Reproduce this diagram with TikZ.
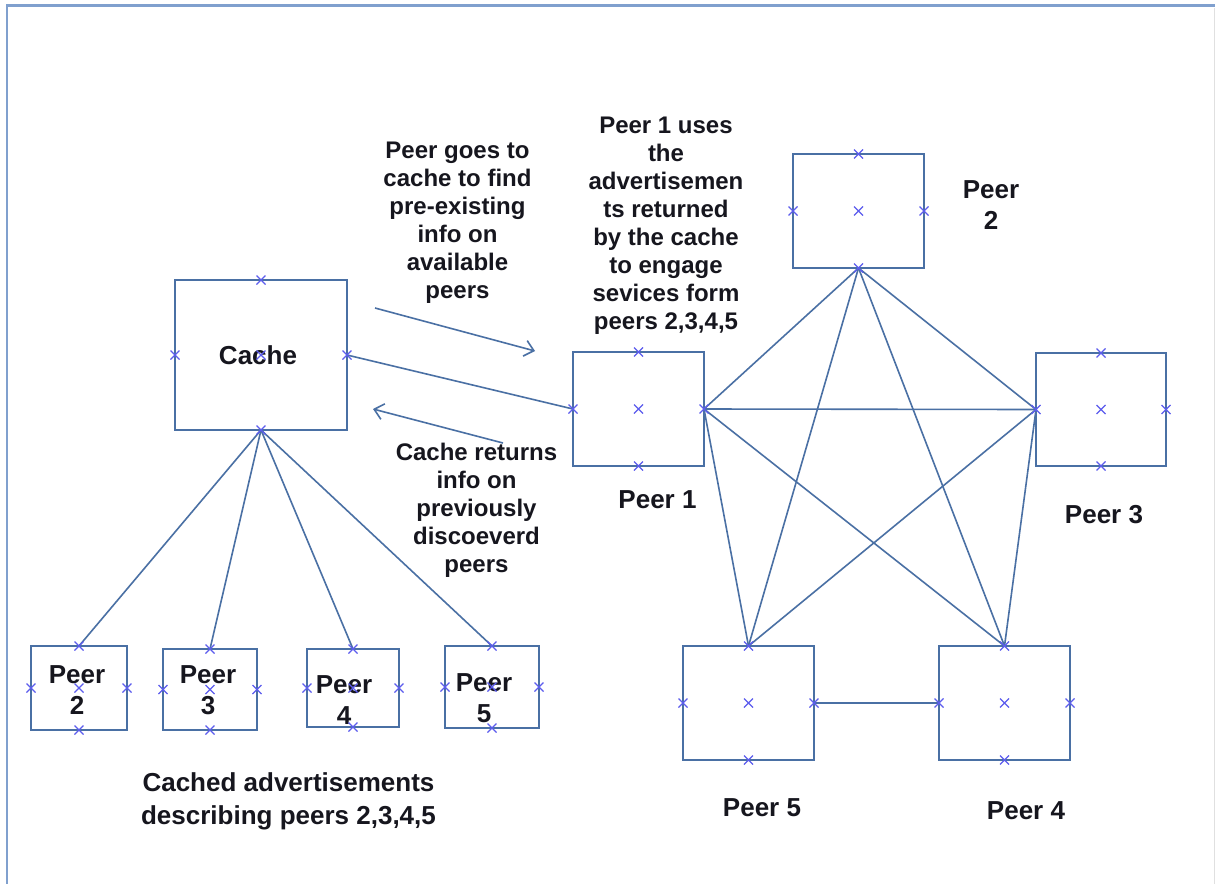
\documentclass[tikz,border=0pt]{standalone}
\usepackage{fontspec}
\setmainfont{Liberation Sans}
\usetikzlibrary{arrows.meta}
\definecolor{boxline}{RGB}{74,112,164}
\definecolor{markblue}{RGB}{92,92,238}
\definecolor{framecol}{RGB}{128,160,206}
\definecolor{inktext}{RGB}{22,22,30}

\begin{document}
\begin{tikzpicture}[x=1pt,y=-1pt,
  box/.style 2 args={draw=boxline, line width=1.8pt, outer sep=0pt, inner sep=0pt,
    minimum width=#1, minimum height=#2},
  link/.style={draw=boxline, line width=1.6pt},
  flow/.style={draw=boxline, line width=1.6pt, -{Straight Barb[length=9pt,width=16pt,line width=1.6pt]}},
  note/.style={text=inktext, font=\fontsize{24}{28}\selectfont\bfseries, align=center, inner sep=0pt},
  lab/.style={text=inktext, font=\fontsize{26}{31}\selectfont\bfseries, align=center, inner sep=0pt},
  pics/xmark/.style={code={\draw[markblue, line width=1.2pt] (-4.5,-4.5) -- (4.5,4.5) (-4.5,4.5) -- (4.5,-4.5);}}
]
\useasboundingbox (0,0) rectangle (1215,884);
\fill[white] (0,0) rectangle (1215,884);

% window frame
\draw[framecol, line width=2.6pt] (1215,5.5) -- (7,5.5) -- (7,884);
\draw[black!12, line width=0.8pt] (1214,8) -- (1214,884);

% cache and the advertisements it holds
\node[box={172pt}{150pt}] (cache) at (261,355) {};
\node[lab] (cachetxt) at (258,355) {Cache};
\node[box={96pt}{84pt}] (c2) at (79,688) {};
\node[box={94pt}{81pt}] (c3) at (210,689.5) {};
\node[box={92pt}{78pt}] (c4) at (353,688) {};
\node[box={94pt}{82pt}] (c5) at (492,687) {};
\node[lab] (c2txt) at (77,690.5) {Peer\\2};
\node[lab] (c3txt) at (208,690.5) {Peer\\3};
\node[lab] (c4txt) at (344,700.5) {Peer\\4};
\node[lab] (c5txt) at (484,698.5) {Peer\\5};

% peer group
\node[box={131pt}{114pt}] (p1) at (638.5,409) {};
\node[box={131pt}{114pt}] (p2) at (858.5,211) {};
\node[box={130pt}{113pt}] (p3) at (1101,409.5) {};
\node[box={131pt}{114pt}] (p4) at (1004.5,703) {};
\node[box={131pt}{114pt}] (p5) at (748.5,703) {};

% cache links
\foreach \t in {c2,c3,c4,c5} \draw[link] (cache.south) -- (\t.north);
\draw[link] (cache.east) -- (p1.west);

% full mesh between the peers
\draw[link] (p1.east) -- (p2.south);
\draw[link] (p1.east) -- (p3.west);
\draw[link] (p1.east) -- (p4.north);
\draw[link] (p1.east) -- (p5.north);
\draw[link] (p2.south) -- (p3.west);
\draw[link] (p2.south) -- (p4.north);
\draw[link] (p2.south) -- (p5.north);
\draw[link] (p3.west) -- (p4.north);
\draw[link] (p3.west) -- (p5.north);
\draw[link] (p5.east) -- (p4.west);

% request / reply arrows
\coordinate (reqs) at (375,308);
\coordinate (reqe) at (535,351);
\coordinate (reps) at (503,443);
\coordinate (repe) at (373,409);
\draw[flow] (reqs) -- (reqe);
\draw[flow] (reps) -- (repe);

% connection points
\foreach \n in {cache,c2,c3,c4,c5,p1,p2,p3,p4,p5} {
  \pic at (\n.north) {xmark};
  \pic at (\n.south) {xmark};
  \pic at (\n.west) {xmark};
  \pic at (\n.east) {xmark};
  \pic at (\n.center) {xmark};
}

% peer labels
\node[lab] (l1) at (657.5,500) {Peer 1};
\node[lab] (l2) at (991,205.5) {Peer\\2};
\node[lab] (l3) at (1104,515) {Peer 3};
\node[lab] (l5) at (762,808) {Peer 5};
\node[lab] (l4) at (1026,811) {Peer 4};

% explanatory notes
\node[note] (n1) at (457.5,222.5) {Peer goes to\\cache to find\\pre-existing\\info on\\available\\peers};
\node[note] (n2) at (666,226) {Peer 1 uses\\the\\advertisemen\\ts returned\\by the cache\\to engage\\sevices form\\peers 2,3,4,5};
\node[note] (n3) at (476.5,510) {Cache returns\\info on\\previously\\discoeverd\\peers};
\node[lab, font=\fontsize{26}{33}\selectfont\bfseries] (n4) at (288.5,801.5) {Cached advertisements\\describing peers 2,3,4,5};
\end{tikzpicture}
\end{document}
